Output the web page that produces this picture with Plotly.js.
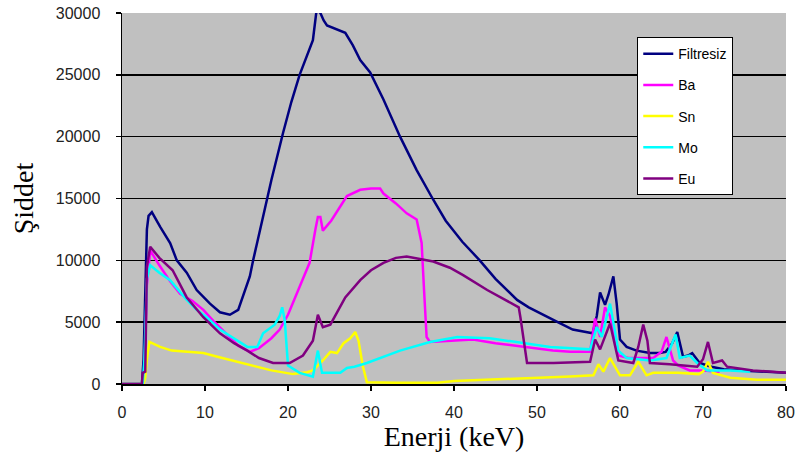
<!DOCTYPE html>
<html>
<head>
<meta charset="utf-8">
<script src="https://cdn.plot.ly/plotly-3.0.1.min.js"></script>
<style>html,body{margin:0;padding:0;background:#fff;}#chart{width:797px;height:473px;}</style>
</head>
<body>
<div id="chart"></div>
<script>
const seriesNames = ["Filtresiz", "Ba", "Sn", "Mo", "Eu"];
const xTicks = [0, 10, 20, 30, 40, 50, 60, 70, 80];
const yTicks = [0, 5000, 10000, 15000, 20000, 25000, 30000];

const filtresizX = [0,2.4,2.6,2.8,3.0,3.2,3.6,4.6,5.8,6.6,7.8,9.0,10.6,11.8,13,14,15.4,15.8,17,18,19.4,20.4,21.4,22.3,23.0,23.4,23.6,23.9,24.3,24.7,25.8,26.9,27.8,28.7,29.9,31.5,33.5,35.5,37.5,39,41,43.1,45,47.6,49,50.4,52.5,54.3,56.7,57.2,57.6,58.2,58.6,59.2,59.6,60,60.8,62,63.6,64.8,65.5,66.3,66.9,67.6,68.2,68.7,69.6,71,72.5,74.5,77,80];
const filtresizY = [0,0,2000,6800,12500,13600,13900,12700,11400,10000,9000,7600,6500,5800,5600,6000,8700,10000,13500,16500,20300,22800,25000,26500,27800,30000,30200,30000,29400,29000,28700,28400,27400,26200,25200,23000,20000,17300,14900,13200,11500,10000,8500,6800,6200,5700,5000,4400,4100,5500,7400,6400,7200,8700,6500,3600,3000,2700,2500,2500,2600,3300,4200,2200,2300,2500,1700,1400,1200,1100,1000,900];

const baX = [0,2.4,2.7,3.0,3.4,4.5,5.8,7,8.5,9.8,11,12.5,14,15.4,16.5,18,19,20,21.2,22.6,23.3,23.6,23.9,24.2,25.2,26.3,27.1,28.7,30,31.1,31.5,33,34.3,35.5,36.1,36.4,36.7,37.1,40,42.3,45,48.3,51.9,54,56.4,57.0,57.6,58.2,58.8,59.8,61,62.8,64,65,65.6,66.4,67,68.4,70,72];
const baY = [0,0,1000,8000,10800,9600,8300,7300,6700,6000,5100,4100,3100,2600,2900,3700,4400,5600,7500,9800,12500,13500,13500,12400,13200,14300,15200,15700,15800,15800,15400,14600,13800,13300,11400,7500,3800,3400,3500,3600,3300,3000,2700,2600,2600,5300,3800,6200,5500,2300,2100,2100,2100,2600,3800,1900,1500,1100,1100,1000];

const snX = [0,2.6,2.8,3.0,3.3,4.6,6,7.8,9.8,11.5,13,15.4,18,20.6,22.3,23.0,24.2,25.1,25.9,26.7,27.5,28.1,28.5,29.0,29.5,33,38,40,42.3,46,50.4,54,56.8,57.4,58.0,58.8,60,61.2,62.2,63.2,64,67,69.5,70.0,70.6,71.2,73.3,76.5,80];
const snY = [0,0,500,2000,3400,3000,2700,2600,2500,2200,1950,1550,1100,800,950,1100,1900,2600,2500,3300,3700,4200,3500,1500,150,100,100,250,300,400,500,600,700,1600,1000,2100,700,700,1800,700,900,900,800,1000,1800,900,500,350,350];

const moX = [0,2.5,2.7,3.0,3.4,4.5,5.8,7.8,9,10.2,11.8,13.5,15.1,16.3,17.0,18.4,19.0,19.3,19.6,20,21.4,23.0,23.6,24.1,26.3,27.1,28,29.5,31.1,33.5,37.1,40.4,44.3,48.3,51.6,56.4,57.2,57.8,58.8,59.8,60.8,63.6,65.6,66.7,67.2,68.4,69.3,70.5,73.3,75.7];
const moY = [0,0,2000,8500,9600,9000,8400,6800,6000,5400,4400,3700,3000,3000,4100,4800,5500,6200,5200,1500,900,600,2700,900,900,1300,1400,1700,2100,2700,3400,3800,3700,3300,3000,2800,4600,3800,6500,2700,2100,1900,2100,4000,2100,2300,1700,1100,1100,1000];

const euX = [0,2.4,2.5,2.8,3.0,3.4,4.5,6.1,7.8,9.8,11.8,13.5,15.1,16.5,18.2,20.2,21.8,23.0,23.6,24.2,25.1,26.9,28.7,30,31.5,33,34.3,36,37.5,39.5,41.1,44.0,47.1,47.8,48.0,48.4,48.8,52,56.4,57.0,57.6,58.8,59.8,61.6,62.2,62.8,63.3,63.6,66,69.3,70.0,70.6,71.2,72.3,72.9,76,80];
const euY = [0,0,900,1000,9500,11100,10200,9200,7000,5400,4100,3300,2700,2100,1700,1700,2300,3500,5600,4600,4800,7000,8400,9200,9800,10200,10300,10100,9900,9400,8800,7600,6500,6200,5400,3500,1700,1700,1800,3600,2800,4900,1900,1700,3000,4800,3500,1700,1600,1400,2000,3400,1700,1900,1400,1100,900];

const colors = ["#000080", "#FF00FF", "#FFFF00", "#00FFFF", "#800080"];
const xs = [filtresizX, baX, snX, moX, euX];
const ys = [filtresizY, baY, snY, moY, euY];

const traces = seriesNames.map((n, i) => ({
  type: "scatter", mode: "lines", name: n,
  x: xs[i], y: ys[i],
  legendgroup: n,
  line: {color: colors[i], width: 2.5}
}));

const layout = {
  width: 797, height: 473,
  margin: {l: 122, r: 11, t: 13, b: 89},
  paper_bgcolor: "#ffffff",
  plot_bgcolor: "#c0c0c0",
  showlegend: true,
  legend: {
    x: 0.776, y: 0.935, xanchor: "left", yanchor: "top",
    bgcolor: "#ffffff", bordercolor: "#000000", borderwidth: 1,
    font: {family: "Liberation Sans, Arial", size: 14, color: "#000"},
    tracegroupgap: 10, itemwidth: 30
  },
  xaxis: {
    range: [0, 80], tickvals: xTicks, ticktext: xTicks.map(String),
    showgrid: false, zeroline: false,
    showline: true, linecolor: "#000", linewidth: 1.5,
    ticks: "outside", ticklen: 5, tickcolor: "#000", tickwidth: 1.5,
    ticklabelstandoff: 8,
    tickfont: {family: "Liberation Sans, Arial", size: 16, color: "#222"},
    title: {text: "Enerji (keV)", font: {family: "Liberation Serif, Times New Roman", size: 28, color: "#000"}, standoff: 1}
  },
  yaxis: {
    range: [0, 30000], tickvals: yTicks, ticktext: yTicks.map(String),
    showgrid: true, gridcolor: "#000", gridwidth: 1.5, zeroline: false,
    showline: true, linecolor: "#000", linewidth: 1.5,
    ticks: "outside", ticklen: 5, tickcolor: "#000", tickwidth: 1.5,
    ticklabelstandoff: 12,
    tickfont: {family: "Liberation Sans, Arial", size: 16, color: "#222"},
    title: {text: "Şiddet", font: {family: "Liberation Serif, Times New Roman", size: 28, color: "#000"}, standoff: 14}
  }
};

Plotly.newPlot("chart", traces, layout, {displayModeBar: false, staticPlot: true});
</script>
</body>
</html>
